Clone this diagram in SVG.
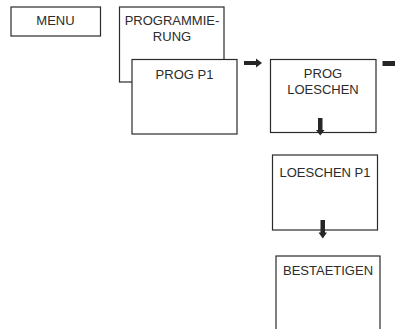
<svg xmlns="http://www.w3.org/2000/svg" width="395" height="329" viewBox="0 0 395 329">
<style>
.box{fill:#fff;stroke:#2b2b2b;stroke-width:1.2}
.t{font-family:"Liberation Sans",Arial,sans-serif;font-size:13px;fill:#2b2b2b;text-anchor:middle}
.arr{fill:#262626}
</style>
<rect width="395" height="329" fill="#fff"/>
<g id="menu"><rect class="box" x="11" y="7" width="89.5" height="29"/><text class="t" x="55.5" y="25">MENU</text></g>
<g id="programmierung"><rect class="box" x="119.5" y="7" width="104.5" height="75"/><text class="t" x="172" y="25">PROGRAMMIE-</text><text class="t" x="172" y="40.5">RUNG</text></g>
<g id="progp1"><rect class="box" x="132" y="59.5" width="105" height="74.5"/><text class="t" x="184.5" y="78.5">PROG P1</text></g>
<g id="progloeschen"><rect class="box" x="270.5" y="59.5" width="105.5" height="73"/><text class="t" x="323" y="78">PROG</text><text class="t" x="323" y="93.5">LOESCHEN</text></g>
<g id="loeschenp1"><rect class="box" x="272.5" y="155" width="105" height="75"/><text class="t" x="325" y="176.5">LOESCHEN P1</text></g>
<g id="bestaetigen"><rect class="box" x="276" y="256" width="104" height="90"/><text class="t" x="328" y="275">BESTAETIGEN</text></g>
<g id="connectors">
<path class="arr" d="M244,61 H256 V58.5 L262,63 L256,67.5 V65 H244 Z"/>
<path class="arr" d="M382.5,61 H395 V66 H382.5 Z"/>
<path class="arr" d="M318,118 H322.5 V130 H324.5 L320.25,135.5 L316,130 H318 Z"/>
<path class="arr" d="M320.5,220 H325 V232.5 H327 L322.75,238.5 L318.5,232.5 H320.5 Z"/>
</g>
</svg>
